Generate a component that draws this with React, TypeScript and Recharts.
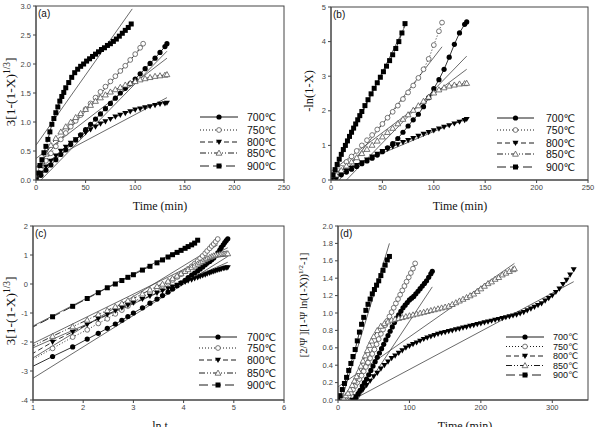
import React from "react";
import { LineChart, Line, XAxis, YAxis } from "recharts";

// ---- time bases ----
const tA132 = [0, 5, 10, 15, 20, 25, 30, 35, 40, 45, 50, 55, 60, 65, 70, 75, 80, 85, 90, 95, 100, 105, 110, 115, 120, 125, 130, 132];
const tA108 = [0, 5, 10, 15, 20, 25, 30, 35, 40, 45, 50, 55, 60, 65, 70, 75, 80, 85, 90, 95, 100, 105, 108];
const tA900 = [0, 2, 4, 6, 8, 10, 12, 14, 16, 18, 20, 22, 24, 26, 28, 30, 33, 36, 39, 42, 45, 48, 51, 54, 57, 60, 63, 66, 69, 72, 75, 78, 81, 84, 87, 90, 93, 96];
const tB900 = [0, 2, 4, 6, 8, 10, 12, 14, 16, 18, 20, 22, 24, 26, 28, 30, 33, 36, 39, 42, 45, 48, 51, 54, 57, 60, 63, 66, 69, 72];

// (a) 3[1-(1-X)^1/3] vs time
const a700 = [0, 0.08, 0.17, 0.26, 0.35, 0.44, 0.52, 0.61, 0.69, 0.78, 0.87, 0.96, 1.05, 1.14, 1.23, 1.32, 1.41, 1.5, 1.58, 1.66, 1.74, 1.83, 1.92, 2.01, 2.1, 2.2, 2.3, 2.35];
const a750 = [0, 0.18, 0.33, 0.46, 0.58, 0.7, 0.81, 0.92, 1.02, 1.12, 1.22, 1.32, 1.42, 1.52, 1.61, 1.7, 1.79, 1.88, 1.97, 2.07, 2.17, 2.28, 2.35];
const a800 = [0, 0.12, 0.23, 0.33, 0.42, 0.5, 0.57, 0.64, 0.7, 0.76, 0.82, 0.87, 0.92, 0.97, 1.01, 1.05, 1.09, 1.12, 1.15, 1.18, 1.21, 1.23, 1.25, 1.27, 1.29, 1.31, 1.32, 1.33];
const a850 = [0, 0.25, 0.45, 0.6, 0.72, 0.83, 0.92, 1.0, 1.08, 1.15, 1.22, 1.29, 1.36, 1.42, 1.47, 1.52, 1.56, 1.6, 1.64, 1.67, 1.7, 1.73, 1.75, 1.77, 1.79, 1.8, 1.81, 1.82];
const a900 = [0, 0.12, 0.25, 0.35, 0.47, 0.58, 0.7, 0.83, 0.96, 1.06, 1.16, 1.26, 1.36, 1.44, 1.51, 1.59, 1.68, 1.77, 1.85, 1.91, 1.96, 2.0, 2.05, 2.09, 2.13, 2.17, 2.21, 2.25, 2.28, 2.32, 2.35, 2.39, 2.43, 2.48, 2.53, 2.58, 2.63, 2.69];
const aFits: Record<string, number[][]> = {
  "700": [[5, 0], [132, 2.22]],
  "750": [[0, 0.22], [108, 2.32]],
  "800": [[0, 0.22], [132, 1.42]],
  "850": [[0, 0.37], [132, 2.1]],
  "900": [[0, 0.6], [97, 2.95]],
};

// (b) -ln(1-X) vs time
const b700 = [0, 0.07, 0.15, 0.23, 0.31, 0.39, 0.47, 0.55, 0.63, 0.72, 0.82, 0.93, 1.05, 1.2, 1.38, 1.56, 1.74, 1.9, 2.12, 2.38, 2.64, 2.9, 3.2, 3.55, 3.92, 4.25, 4.5, 4.57];
const b750 = [0, 0.18, 0.35, 0.52, 0.68, 0.84, 1.0, 1.15, 1.3, 1.46, 1.62, 1.8, 1.97, 2.15, 2.34, 2.53, 2.73, 2.95, 3.2, 3.5, 3.9, 4.3, 4.55];
const b800 = [0, 0.1, 0.19, 0.27, 0.35, 0.43, 0.51, 0.59, 0.67, 0.75, 0.83, 0.9, 0.97, 1.03, 1.09, 1.15, 1.21, 1.27, 1.33, 1.38, 1.43, 1.48, 1.53, 1.58, 1.63, 1.68, 1.73, 1.76];
const b850 = [0, 0.15, 0.28, 0.41, 0.53, 0.65, 0.77, 0.89, 1.01, 1.13, 1.25, 1.38, 1.5, 1.63, 1.76, 1.89, 2.02, 2.15, 2.28, 2.4, 2.52, 2.61, 2.67, 2.72, 2.75, 2.78, 2.79, 2.8];
const b900 = [0, 0.15, 0.3, 0.45, 0.6, 0.74, 0.88, 1.0, 1.13, 1.26, 1.38, 1.5, 1.62, 1.74, 1.86, 1.98, 2.15, 2.32, 2.49, 2.65, 2.81, 2.97, 3.13, 3.29, 3.45, 3.62, 3.8, 4.0, 4.25, 4.52];
const bFits: Record<string, number[][]> = {
  "700": [[15, 0], [132, 3.58]],
  "750": [[8, 0], [108, 3.85]],
  "800": [[0, 0.15], [132, 1.8]],
  "850": [[0, 0.25], [132, 3.2]],
  "900": [[0, 0.1], [72, 4.45]],
};

// (c) vs ln t
const lnT = [0.69, 1.39, 1.79, 2.08, 2.3, 2.48, 2.64, 2.77, 2.89, 3.0, 3.18, 3.33, 3.47, 3.58, 3.69, 3.78, 3.87, 3.95, 4.03, 4.09, 4.16, 4.22, 4.28, 4.33, 4.38, 4.43, 4.47, 4.52, 4.56, 4.6, 4.64, 4.68, 4.72, 4.75, 4.79, 4.82, 4.85, 4.88];
const c700 = [-3.1, -2.5, -2.17, -1.9, -1.7, -1.53, -1.38, -1.25, -1.12, -1.0, -0.82, -0.66, -0.52, -0.4, -0.28, -0.17, -0.06, 0.04, 0.13, 0.22, 0.31, 0.38, 0.45, 0.52, 0.59, 0.66, 0.72, 0.78, 0.84, 0.9, 0.98, 1.07, 1.17, 1.26, 1.35, 1.43, 1.5, 1.56];
const c750 = [-2.9, -2.22, -1.83, -1.58, -1.36, -1.2, -1.03, -0.9, -0.76, -0.62, -0.45, -0.3, -0.16, -0.06, 0.04, 0.14, 0.24, 0.34, 0.44, 0.52, 0.61, 0.7, 0.79, 0.88, 0.97, 1.06, 1.14, 1.23, 1.31, 1.38, 1.46, 1.55];
const c800 = [-2.7, -2.0, -1.65, -1.4, -1.2, -1.05, -0.92, -0.82, -0.73, -0.65, -0.52, -0.41, -0.31, -0.23, -0.15, -0.09, -0.03, 0.02, 0.07, 0.11, 0.15, 0.19, 0.22, 0.26, 0.29, 0.32, 0.35, 0.38, 0.41, 0.43, 0.46, 0.48, 0.5, 0.52, 0.54, 0.55, 0.56, 0.57];
const c850 = [-2.4, -1.8, -1.47, -1.24, -1.05, -0.91, -0.78, -0.67, -0.57, -0.5, -0.34, -0.2, -0.08, 0.0, 0.1, 0.19, 0.28, 0.36, 0.44, 0.5, 0.57, 0.63, 0.69, 0.74, 0.79, 0.84, 0.88, 0.92, 0.95, 0.98, 1.0, 1.01, 1.02, 1.03, 1.04, 1.04, 1.05, 1.05];
const c900 = [-1.76, -1.13, -0.77, -0.5, -0.3, -0.13, 0.0, 0.12, 0.23, 0.32, 0.48, 0.61, 0.73, 0.83, 0.93, 1.01, 1.09, 1.16, 1.23, 1.29, 1.35, 1.41, 1.51];
const cFits: Record<string, number[][]> = {
  "700": [[1, -3.25], [4.88, 0.95]],
  "750": [[1, -2.55], [4.68, 1.35]],
  "800": [[1, -2.2], [4.88, 0.75]],
  "850": [[1, -2.05], [4.88, 1.25]],
  "900": [[1, -1.45], [4.28, 1.5]],
};

// (d) [2/Ψ][(1-Ψ ln(1-X))^1/2 - 1] vs time
const tD700 = [22, 25, 28, 31, 34, 37, 40, 43, 46, 49, 52, 55, 58, 61, 64, 67, 70, 73, 76, 79, 82, 85, 88, 91, 94, 97, 100, 103, 106, 109, 112, 115, 118, 121, 124, 127, 130, 132];
const d700 = [0, 0.03, 0.07, 0.11, 0.16, 0.2, 0.24, 0.29, 0.34, 0.39, 0.44, 0.49, 0.54, 0.59, 0.64, 0.69, 0.74, 0.79, 0.84, 0.89, 0.94, 0.98, 1.02, 1.06, 1.09, 1.12, 1.15, 1.17, 1.19, 1.22, 1.25, 1.28, 1.31, 1.34, 1.37, 1.41, 1.45, 1.48];
const tD750 = [12, 15, 18, 21, 24, 27, 30, 33, 36, 39, 42, 45, 48, 51, 54, 57, 60, 63, 66, 69, 72, 75, 78, 81, 84, 87, 90, 93, 96, 99, 102, 105, 108];
const d750 = [0, 0.04, 0.08, 0.12, 0.16, 0.2, 0.24, 0.28, 0.33, 0.38, 0.43, 0.48, 0.53, 0.58, 0.64, 0.7, 0.76, 0.81, 0.86, 0.91, 0.96, 1.01, 1.06, 1.11, 1.16, 1.21, 1.26, 1.31, 1.36, 1.41, 1.46, 1.51, 1.57];
const tD800 = [20, 25, 30, 35, 40, 45, 50, 55, 60, 65, 70, 75, 80, 85, 90, 95, 100, 105, 110, 115, 120, 125, 130, 135, 140, 145, 150, 155, 160, 165, 170, 175, 180, 185, 190, 195, 200, 205, 210, 215, 220, 225, 230, 235, 240, 245, 250, 255, 260, 265, 270, 275, 280, 285, 290, 295, 300, 305, 310, 315, 320, 325, 330];
const d800 = [0, 0.04, 0.08, 0.12, 0.17, 0.22, 0.27, 0.31, 0.36, 0.4, 0.44, 0.48, 0.51, 0.54, 0.57, 0.6, 0.62, 0.64, 0.66, 0.68, 0.7, 0.715, 0.73, 0.745, 0.76, 0.77, 0.78, 0.79, 0.8, 0.81, 0.82, 0.83, 0.84, 0.85, 0.86, 0.87, 0.88, 0.89, 0.9, 0.91, 0.92, 0.93, 0.94, 0.95, 0.96, 0.97, 0.98, 0.995, 1.01, 1.03, 1.05, 1.07, 1.09, 1.11, 1.14, 1.17, 1.2, 1.24, 1.28, 1.33, 1.38, 1.44, 1.5];
const tD850 = [8, 11, 14, 17, 20, 23, 26, 29, 32, 35, 38, 41, 44, 47, 50, 55, 60, 65, 70, 75, 80, 85, 90, 95, 100, 105, 110, 115, 120, 125, 130, 135, 140, 145, 150, 155, 160, 165, 170, 175, 180, 185, 190, 195, 200, 205, 210, 215, 220, 225, 230, 235, 240, 245, 247];
const d850 = [0.02, 0.05, 0.08, 0.12, 0.17, 0.22, 0.27, 0.33, 0.39, 0.45, 0.51, 0.57, 0.63, 0.68, 0.73, 0.8, 0.85, 0.88, 0.9, 0.92, 0.93, 0.94, 0.95, 0.96, 0.97, 0.98, 0.99, 1.0, 1.01, 1.02, 1.03, 1.04, 1.05, 1.06, 1.07, 1.08, 1.1, 1.12, 1.14, 1.16, 1.18, 1.2, 1.22, 1.25, 1.28, 1.31, 1.34, 1.36, 1.39, 1.41, 1.44, 1.46, 1.48, 1.5, 1.51];
const tD900 = [0, 3, 6, 9, 12, 15, 18, 21, 24, 27, 30, 33, 36, 39, 42, 45, 48, 51, 54, 57, 60, 63, 66, 69, 72];
const d900 = [0, 0.05, 0.12, 0.19, 0.26, 0.34, 0.42, 0.5, 0.58, 0.68, 0.78, 0.87, 0.95, 1.03, 1.1, 1.16, 1.22, 1.27, 1.32, 1.37, 1.43, 1.49, 1.55, 1.61, 1.65];
const dFits: Record<string, number[][]> = {
  "700": [[27, 0], [132, 1.3]],
  "750": [[12, 0], [108, 1.55]],
  "800": [[20, 0], [330, 1.36]],
  "850": [[0, 0.15], [247, 1.57]],
  "900": [[5, 0], [72, 1.8]],
};

const temps = ["700", "750", "800", "850", "900"];

type Pt = { x: number; y: number };
const zip = (xs: number[], ys: number[]): Pt[] => ys.map((y, i) => ({ x: xs[i], y }));
const fitPts = (f: number[][]): Pt[] => f.map(([x, y]) => ({ x, y }));

const styleOf: Record<string, { dash?: string; marker: string }> = {
  "700": { marker: "circle" },
  "750": { dash: "1 2", marker: "ocircle" },
  "800": { dash: "5 3", marker: "tridown" },
  "850": { dash: "6 2 1 2 1 2", marker: "otri" },
  "900": { dash: "9 4", marker: "square" },
};

function Marker({ kind, cx, cy }: { kind: string; cx: number; cy: number }) {
  switch (kind) {
    case "circle":
      return <circle cx={cx} cy={cy} r={2.6} fill="#000" />;
    case "ocircle":
      return <circle cx={cx} cy={cy} r={2.4} fill="#fff" stroke="#555" strokeWidth={0.8} />;
    case "tridown":
      return <polygon points={`${cx - 3},${cy - 2.2} ${cx + 3},${cy - 2.2} ${cx},${cy + 3}`} fill="#000" />;
    case "otri":
      return <polygon points={`${cx - 2.9},${cy + 2.2} ${cx + 2.9},${cy + 2.2} ${cx},${cy - 2.9}`} fill="#fff" stroke="#555" strokeWidth={0.8} />;
    default:
      return <rect x={cx - 2.5} y={cy - 2.5} width={5} height={5} fill="#000" />;
  }
}

const tickStyle = { fontSize: 7.5, fill: "#444", fontFamily: "Liberation Sans, Arial, sans-serif" };

interface PanelProps {
  left: number;
  top: number;
  width: number;
  height: number;
  yw: number;
  xh: number;
  mTop: number;
  mRight: number;
  xDomain: number[];
  xTicks: number[];
  yDomain: number[];
  yTicks: number[];
  yFmt: (v: number) => string;
  series: Record<string, Pt[]>;
  fits: Record<string, number[][]>;
}

function Panel(p: PanelProps) {
  return (
    <div style={{ position: "absolute", left: p.left, top: p.top }}>
      <LineChart
        width={p.width}
        height={p.height}
        margin={{ top: p.mTop, right: p.mRight, left: 0, bottom: 0 }}
      >
        <XAxis
          dataKey="x"
          type="number"
          domain={p.xDomain}
          ticks={p.xTicks}
          interval={0}
          allowDataOverflow
          height={p.xh}
          tick={tickStyle}
          tickSize={3}
          stroke="#444"
        />
        <YAxis
          dataKey="y"
          type="number"
          domain={p.yDomain}
          ticks={p.yTicks}
          interval={0}
          allowDataOverflow
          width={p.yw}
          tick={tickStyle}
          tickSize={3}
          tickFormatter={p.yFmt}
          stroke="#444"
        />
        {temps.map((t) => (
          <Line
            key={"fit" + t}
            data={fitPts(p.fits[t])}
            dataKey="y"
            stroke="#444"
            strokeWidth={0.8}
            dot={false}
            isAnimationActive={false}
          />
        ))}
        {temps.map((t) => (
          <Line
            key={"s" + t}
            data={p.series[t]}
            dataKey="y"
            stroke="#000"
            strokeWidth={0.8}
            strokeDasharray={styleOf[t].dash}
            dot={(d: any) => <Marker key={d.index} kind={styleOf[t].marker} cx={d.cx} cy={d.cy} />}
            isAnimationActive={false}
          />
        ))}
      </LineChart>
    </div>
  );
}

function Legend({ x0, x1, tx, rows, fs = 10.5 }: { x0: number; x1: number; tx: number; rows: number[]; fs?: number }) {
  return (
    <g>
      {temps.map((t, i) => {
        const y = rows[i];
        const mid = (x0 + x1) / 2;
        return (
          <g key={t}>
            <line x1={x0} x2={x1} y1={y} y2={y} stroke="#000" strokeWidth={0.9} strokeDasharray={styleOf[t].dash} />
            <Marker kind={styleOf[t].marker} cx={mid} cy={y} />
            <text x={tx} y={y + fs * 0.37} fontSize={fs} fontFamily="Liberation Sans, DejaVu Sans, sans-serif" fill="#111">
              {t}℃
            </text>
          </g>
        );
      })}
    </g>
  );
}

const serif = "Liberation Serif, Times New Roman, serif";

export default function App() {
  const seriesA = { "700": zip(tA132, a700), "750": zip(tA108, a750), "800": zip(tA132, a800), "850": zip(tA132, a850), "900": zip(tA900, a900) };
  const seriesB = { "700": zip(tA132, b700), "750": zip(tA108, b750), "800": zip(tA132, b800), "850": zip(tA132, b850), "900": zip(tB900, b900) };
  const seriesC = { "700": zip(lnT, c700), "750": zip(lnT, c750), "800": zip(lnT, c800), "850": zip(lnT, c850), "900": zip(lnT, c900) };
  const seriesD = { "700": zip(tD700, d700), "750": zip(tD750, d750), "800": zip(tD800, d800), "850": zip(tD850, d850), "900": zip(tD900, d900) };

  return (
    <div style={{ position: "absolute", left: 0, top: 0, width: 595, height: 427, background: "#fff", overflow: "hidden" }}>
      <Panel left={0} top={0} width={297} height={213} yw={36} xh={33} mTop={6} mRight={13}
        xDomain={[0, 250]} xTicks={[0, 50, 100, 150, 200, 250]}
        yDomain={[0, 3]} yTicks={[0, 0.5, 1, 1.5, 2, 2.5, 3]} yFmt={(v) => v.toFixed(1)}
        series={seriesA} fits={aFits} />
      <Panel left={297} top={0} width={298} height={213} yw={34} xh={33} mTop={7} mRight={7}
        xDomain={[0, 250]} xTicks={[0, 50, 100, 150, 200, 250]}
        yDomain={[0, 5]} yTicks={[0, 1, 2, 3, 4, 5]} yFmt={(v) => String(v)}
        series={seriesB} fits={bFits} />
      <Panel left={0} top={213} width={297} height={214} yw={33} xh={27} mTop={13} mRight={13}
        xDomain={[1, 6]} xTicks={[1, 2, 3, 4, 5, 6]}
        yDomain={[-4, 2]} yTicks={[-4, -3, -2, -1, 0, 1, 2]} yFmt={(v) => String(v)}
        series={seriesC} fits={cFits} />
      <Panel left={297} top={213} width={298} height={214} yw={41} xh={27} mTop={13} mRight={7}
        xDomain={[0, 350]} xTicks={[0, 100, 200, 300]}
        yDomain={[0, 2]} yTicks={[0, 0.2, 0.4, 0.6, 0.8, 1, 1.2, 1.4, 1.6, 1.8, 2]} yFmt={(v) => v.toFixed(1)}
        series={seriesD} fits={dFits} />

      <svg width={595} height={427} style={{ position: "absolute", left: 0, top: 0, pointerEvents: "none" }}>
        <g fill="none" stroke="#444" strokeWidth={1}>
          <rect x={36} y={6} width={248} height={174} />
          <rect x={331} y={7} width={257} height={173} />
          <rect x={33} y={226} width={251} height={174} />
          <rect x={338} y={226} width={250} height={174} />
        </g>
        <g fontFamily="Liberation Sans, Arial, sans-serif" fontSize={10} fill="#111">
          <text x={38} y={17}>(a)</text>
          <text x={333} y={18}>(b)</text>
          <text x={35} y={237}>(c)</text>
          <text x={340} y={237}>(d)</text>
        </g>
        <g fontFamily={serif} fontSize={12} fill="#111" textAnchor="middle">
          <text x={160} y={210}>Time (min)</text>
          <text x={460} y={210}>Time (min)</text>
          <text x={160} y={430}>ln t</text>
          <text x={465} y={430}>Time (min)</text>
        </g>
        <g fontFamily={serif} fill="#111" textAnchor="middle">
          <text transform="translate(15,92) rotate(-90)" fontSize={13.5}>
            3[1-(1-X)<tspan dy={-5} fontSize={9.5}>1/3</tspan><tspan dy={5}>]</tspan>
          </text>
          <text transform="translate(313,91) rotate(-90)" fontSize={12.5}>-ln(1-X)</text>
          <text transform="translate(15,311) rotate(-90)" fontSize={13.5}>
            3[1-(1-X)<tspan dy={-5} fontSize={9.5}>1/3</tspan><tspan dy={5}>]</tspan>
          </text>
          <text transform="translate(307,305) rotate(-90)" fontSize={10.5}>
            [2/Ψ ][1-Ψ ln(1-X))<tspan dy={-4} fontSize={7}>1/2</tspan><tspan dy={4}>-1]</tspan>
          </text>
        </g>
        <Legend x0={200} x1={238} tx={247} rows={[117, 130, 142, 153, 166]} />
        <Legend x0={497} x1={534} tx={546} rows={[118, 130, 143, 154, 167]} />
        <Legend x0={199} x1={237} tx={247} rows={[337, 348, 360, 373, 385]} />
        <Legend x0={506} x1={544} tx={553} rows={[337, 346.5, 356, 365.5, 375]} fs={9} />
      </svg>
    </div>
  );
}
